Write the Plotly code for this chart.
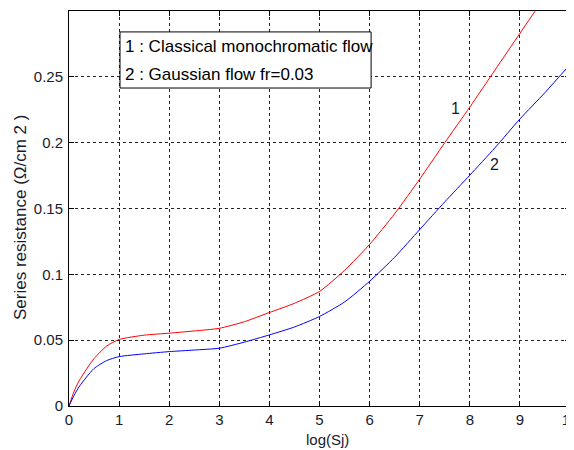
import plotly.graph_objects as go

x_vals = [0, 0.1, 0.2, 0.35, 0.5, 0.75, 1, 1.5, 2, 2.5, 3, 3.5, 4, 4.5, 5,
          5.5, 6, 6.5, 7, 7.5, 8, 8.5, 9, 9.5, 10]
classical = [0, 0.011, 0.019, 0.028, 0.036, 0.0455, 0.0505, 0.0538, 0.0553, 0.057,
             0.059, 0.064, 0.071, 0.078, 0.087, 0.103, 0.1227, 0.146, 0.1723, 0.200,
             0.227, 0.255, 0.283, 0.311, 0.339]
gaussian = [0, 0.008, 0.0145, 0.022, 0.0285, 0.0345, 0.0375, 0.0396, 0.0413, 0.0425,
            0.0439, 0.0485, 0.054, 0.060, 0.068, 0.079, 0.0947, 0.113, 0.134, 0.155,
            0.1753, 0.196, 0.218, 0.238, 0.2594]

x_ticks = [0, 1, 2, 3, 4, 5, 6, 7, 8, 9, 10]
y_ticks = [0, 0.05, 0.1, 0.15, 0.2, 0.25]
y_tick_text = ["0", "0.05", "0.1", "0.15", "0.2", "0.25"]

legend_lines = ["1 : Classical monochromatic flow", "2 : Gaussian flow fr=0.03"]
curve_labels = ["1", "2"]
curve_label_x = [7.72, 8.5]
curve_label_y = [0.2256, 0.1837]

FONT = "Liberation Sans, Arial, sans-serif"
TXT = "#1a1a2e"

fig = go.Figure()
fig.add_trace(go.Scatter(x=x_vals, y=classical, mode="lines",
                         line=dict(color="#ff0000", width=1, shape="spline", smoothing=0.6),
                         showlegend=False))
fig.add_trace(go.Scatter(x=x_vals, y=gaussian, mode="lines",
                         line=dict(color="#0000ff", width=1, shape="spline", smoothing=0.6),
                         showlegend=False))

axis_common = dict(
    showgrid=True, gridcolor="#222222", gridwidth=1, griddash="3px,3px",
    showline=True, linecolor="black", linewidth=1, mirror="ticks",
    ticks="inside", ticklen=5, tickcolor="black",
    zeroline=False, ticklabeloverflow="allow", automargin=False,
    tickfont=dict(family=FONT, size=15, color=TXT),
)
fig.update_xaxes(range=[0, 10], tickvals=x_ticks, **axis_common)
fig.update_yaxes(range=[0, 0.3], tickvals=y_ticks, ticktext=y_tick_text,
                 ticklabelstandoff=2, **axis_common)

# legend box
fig.add_shape(type="rect", xref="paper", yref="paper",
              x0=0.1018, x1=0.603, y0=0.805, y1=0.947,
              line=dict(color="black", width=1), fillcolor="white", layer="above")
for txt, yy in zip(legend_lines, [0.911, 0.8405]):
    fig.add_annotation(text=txt, xref="paper", yref="paper", x=0.107, y=yy,
                       xanchor="left", yanchor="middle", showarrow=False,
                       font=dict(family=FONT, size=17, color="black"))

for t, cx, cy in zip(curve_labels, curve_label_x, curve_label_y):
    fig.add_annotation(text=t, x=cx, y=cy, xref="x", yref="y", showarrow=False,
                       font=dict(family=FONT, size=16, color=TXT))

fig.add_annotation(text="log(Sj)", xref="paper", yref="paper", x=0.516, y=-0.084,
                   xanchor="center", yanchor="middle", showarrow=False,
                   font=dict(family=FONT, size=15, color=TXT))
fig.add_annotation(text="Series resistance (Ω/cm 2 )", xref="paper", yref="paper",
                   x=-0.0958, y=0.476, xanchor="center", yanchor="middle",
                   textangle=-90, showarrow=False,
                   font=dict(family=FONT, size=17, color=TXT))

# page body has an 8px default margin, so the figure is sized to fit inside it
fig.update_layout(
    width=566, height=442,
    margin=dict(l=61, r=4, t=3, b=44, autoexpand=False),
    plot_bgcolor="white", paper_bgcolor="white",
    showlegend=False,
)

fig.write_html("out.html")
